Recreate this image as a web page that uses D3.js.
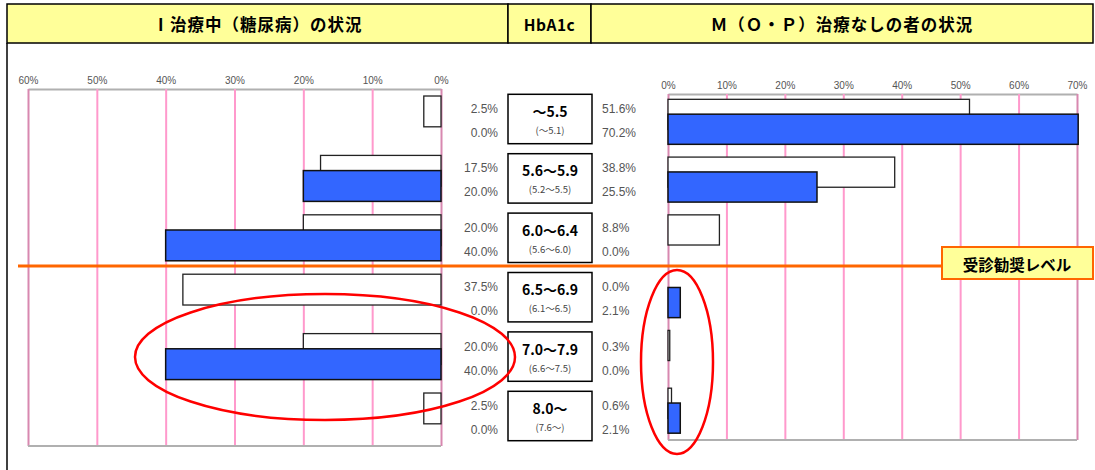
<!DOCTYPE html>
<meta charset="utf-8">
<title>HbA1c</title>
<script src="https://d3js.org/d3.v7.min.js"></script>
<style>
  body { margin: 0; background: #fff; }
  text { font-family: "Liberation Sans", Arial, sans-serif; }
  .jp { font-family: "Noto Sans CJK JP", sans-serif; }
</style>
<body>
<div id="chart"></div>
<script>

// data
var categories = ["～5.5", "5.6～5.9", "6.0～6.4", "6.5～6.9", "7.0～7.9", "8.0～"];
var subLabels  = ["(～5.1)", "(5.2～5.5)", "(5.6～6.0)", "(6.1～6.5)", "(6.6～7.5)", "(7.6～)"];
var treatedA   = [2.5, 17.5, 20.0, 37.5, 20.0, 2.5];   // white bars
var treatedB   = [0.0, 20.0, 40.0, 0.0, 40.0, 0.0];    // blue bars
var untreatedA = [51.6, 38.8, 8.8, 0.0, 0.3, 0.6];     // white bars
var untreatedB = [70.2, 25.5, 0.0, 2.1, 0.0, 2.1];     // blue bars
var leftTicks  = [0, 10, 20, 30, 40, 50, 60];
var rightTicks = [0, 10, 20, 30, 40, 50, 60, 70];
var headers    = ["Ⅰ治療中（糖尿病）の状況", "HbA1c", "Ｍ（Ｏ・Ｐ）治療なしの者の状況"];
var levelLabel = "受診勧奨レベル";

var W = 1095, H = 470;
var svg = d3.select("#chart").append("svg")
    .attr("width", W).attr("height", H);

// header row
var hx = [7, 508, 591, 1093];
svg.selectAll("rect.head")
  .data(headers).enter().append("rect")
    .attr("class", "head")
    .attr("x", function(d, i) { return hx[i]; })
    .attr("y", 4)
    .attr("width", function(d, i) { return hx[i + 1] - hx[i]; })
    .attr("height", 39)
    .style("fill", "#ffff99")
    .style("stroke", "#000")
    .style("stroke-width", 1.5);
svg.selectAll("text.head")
  .data(headers).enter().append("text")
    .attr("class", "head jp")
    .attr("x", function(d, i) { return (hx[i] + hx[i + 1]) / 2; })
    .attr("y", 24)
    .attr("text-anchor", "middle")
    .attr("dominant-baseline", "central")
    .style("font-size", function(d, i) { return i === 1 ? "15.5px" : "16.5px"; })
    .style("letter-spacing", function(d, i) { return i === 1 ? "0.5px" : "1px"; })
    .style("font-weight", "bold")
    .text(function(d) { return d; });

// frame line on the left
svg.append("line")
    .attr("x1", 7).attr("x2", 7).attr("y1", 43).attr("y2", H)
    .style("stroke", "#000").style("stroke-width", 1.5);

var xL = d3.scaleLinear().domain([0, 60]).range([441, 28]);
var xR = d3.scaleLinear().domain([0, 70]).range([668, 1077]);

var yL = d3.scaleBand().domain(categories).range([89, 446])
    .paddingInner(0.226).paddingOuter(0.118);
var yR = d3.scaleBand().domain(categories).range([94, 438.5])
    .paddingInner(0.221).paddingOuter(0.092);

function drawAxis(x, ticks, top, bottom) {
  var g = svg.append("g")
      .attr("transform", "translate(0," + top + ")")
      .call(d3.axisTop(x).tickValues(ticks)
        .tickSizeInner(-(bottom - top)).tickSizeOuter(0)
        .tickPadding(5)
        .tickFormat(function(d) { return d + "%"; }));
  g.select(".domain").style("stroke", "#b0b0b0").style("stroke-width", 2);
  g.selectAll(".tick line")
      .style("stroke", function(d) { return (d === 0 || d === ticks[ticks.length - 1]) ? "#d888b0" : "#ff99cc"; })
      .style("stroke-width", 2);
  g.selectAll(".tick text")
      .style("font-size", "10px")
      .style("fill", "#555")
      .style("font-family", "'Liberation Sans', Arial, sans-serif");
  svg.append("line")
      .attr("x1", x.range()[0]).attr("x2", x.range()[1])
      .attr("y1", bottom).attr("y2", bottom)
      .style("stroke", "#b0b0b0").style("stroke-width", 2);
}
drawAxis(xL, leftTicks, 89, 446);
drawAxis(xR, rightTicks, 94, 440);

function drawBars(x, y, a, b) {
  var bw = y.bandwidth(), h = bw * 0.67, off = bw * 0.33;
  var x0 = x(0);
  svg.append("g").selectAll("rect")
    .data(a).enter().append("rect")
      .attr("x", function(d) { return Math.min(x(d), x0); })
      .attr("y", function(d, i) { return y(categories[i]); })
      .attr("width", function(d) { return Math.abs(x(d) - x0); })
      .attr("height", h)
      .style("fill", "#fff")
      .style("stroke", "#222")
      .style("stroke-width", 1.3)
      .style("display", function(d) { return d > 0 ? null : "none"; });
  svg.append("g").selectAll("rect")
    .data(b).enter().append("rect")
      .attr("x", function(d) { return Math.min(x(d), x0); })
      .attr("y", function(d, i) { return y(categories[i]) + off; })
      .attr("width", function(d) { return Math.abs(x(d) - x0); })
      .attr("height", h)
      .style("fill", "#3366ff")
      .style("stroke", "#111")
      .style("stroke-width", 1.5)
      .style("display", function(d) { return d > 0 ? null : "none"; });
}
drawBars(xL, yL, treatedA, treatedB);
drawBars(xR, yR, untreatedA, untreatedB);

// middle column: category boxes and values
var mid = svg.append("g");
categories.forEach(function(c, i) {
  var cy = yL(c) + yL.bandwidth() / 2;
  mid.append("rect")
      .attr("x", 508).attr("y", cy - 24.7)
      .attr("width", 84).attr("height", 49.4)
      .style("fill", "#fff").style("stroke", "#000").style("stroke-width", 1.5);
  mid.append("text").attr("class", "jp")
      .attr("x", 550).attr("y", cy - 8)
      .attr("text-anchor", "middle").attr("dominant-baseline", "central")
      .style("font-size", "14px").style("font-weight", "bold")
      .text(c);
  mid.append("text").attr("class", "jp")
      .attr("x", 550).attr("y", cy + 11)
      .attr("text-anchor", "middle").attr("dominant-baseline", "central")
      .style("font-size", "9.5px").style("fill", "#444")
      .text(subLabels[i]);
  [[treatedA[i], 498, "end", -10], [treatedB[i], 498, "end", 14],
   [untreatedA[i], 602, "start", -10], [untreatedB[i], 602, "start", 14]]
    .forEach(function(v) {
      mid.append("text")
          .attr("x", v[1]).attr("y", cy + v[3])
          .attr("text-anchor", v[2]).attr("dominant-baseline", "central")
          .style("font-size", "12px").style("fill", "#555")
          .text(v[0].toFixed(1) + "%");
    });
});

// recommended level line
svg.append("line")
    .attr("x1", 18).attr("x2", 942).attr("y1", 266).attr("y2", 266)
    .style("stroke", "#ff6600").style("stroke-width", 3);
svg.append("rect")
    .attr("x", 942).attr("y", 247).attr("width", 151).attr("height", 32)
    .style("fill", "#ffff99").style("stroke", "#ff6600").style("stroke-width", 2);
svg.append("text").attr("class", "jp")
    .attr("x", 1017).attr("y", 264)
    .attr("text-anchor", "middle").attr("dominant-baseline", "central")
    .style("font-size", "15.5px").style("font-weight", "bold")
    .text(levelLabel);

// red ellipses
svg.append("ellipse")
    .attr("cx", 325).attr("cy", 357).attr("rx", 190).attr("ry", 63)
    .style("fill", "none").style("stroke", "#ff0000").style("stroke-width", 2.5);
svg.append("ellipse")
    .attr("cx", 677).attr("cy", 362).attr("rx", 36).attr("ry", 92)
    .style("fill", "none").style("stroke", "#ff0000").style("stroke-width", 2.5);

</script>
</body>
